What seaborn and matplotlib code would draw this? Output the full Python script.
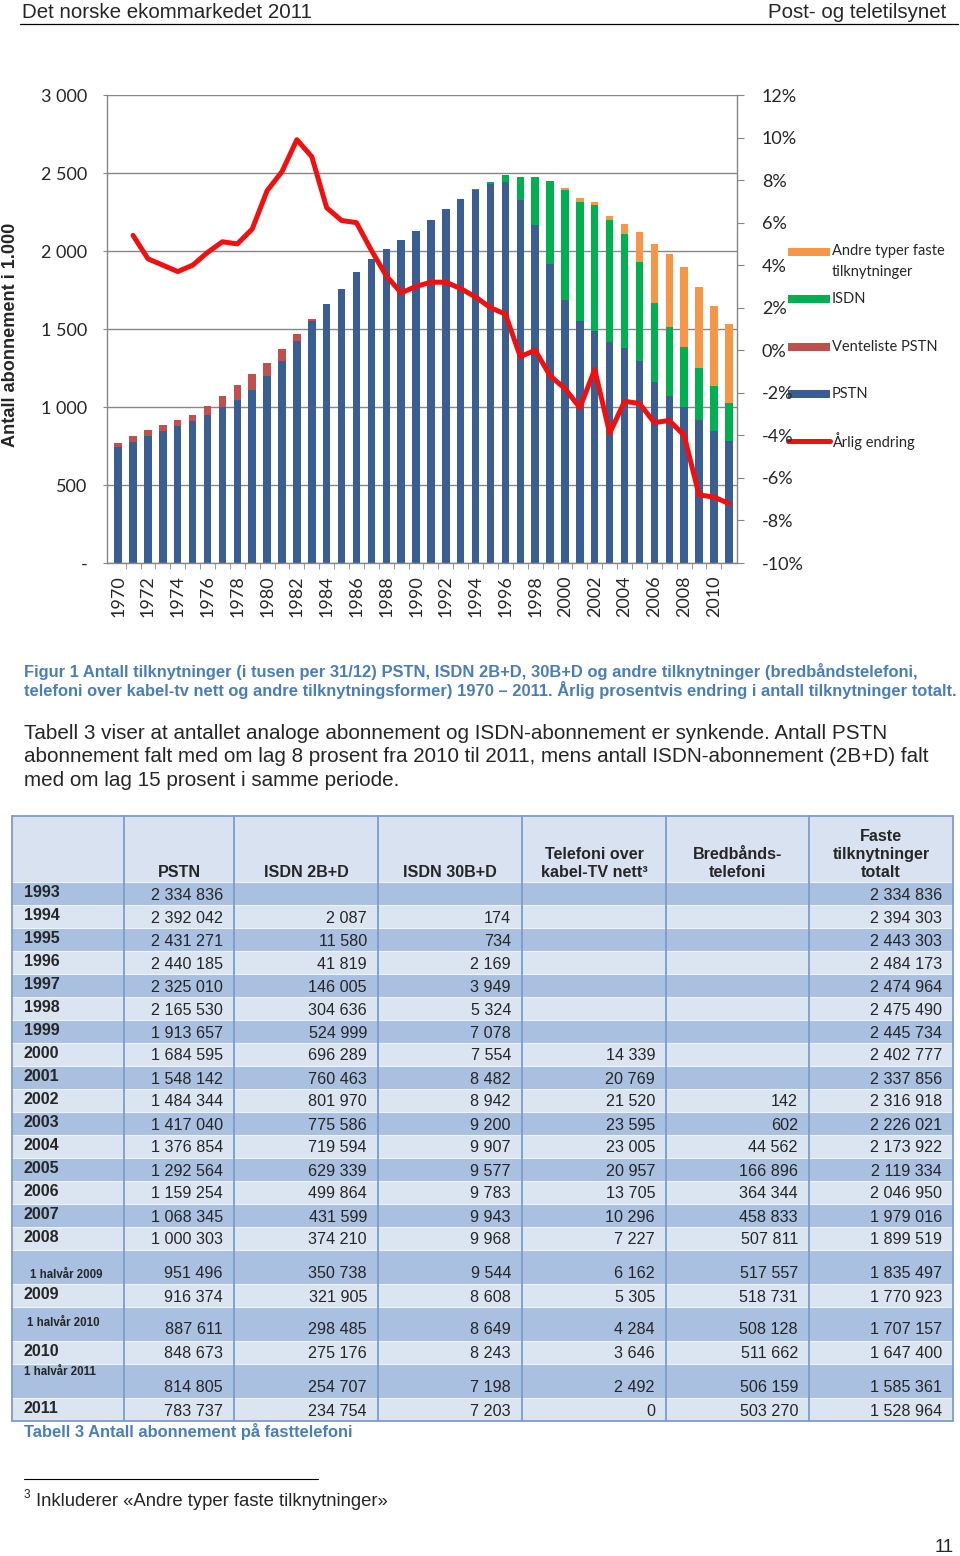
import matplotlib
matplotlib.use("Agg")
import matplotlib.pyplot as plt
from matplotlib.patches import Rectangle
import numpy as np
import seaborn as sns

sns.set_style("white")
plt.rcParams["font.family"] = ["Liberation Sans", "DejaVu Sans"]

# ---------------------------------------------------------
# chart data, thousands of subscriptions per 31/12

years = list(range(1970, 2012))

# PSTN 1970-1992 (1993 onwards comes from the table)
pstn_early = [741, 778, 812, 844, 876, 910, 951, 1000, 1047, 1111, 1197,
              1297, 1423, 1554, 1658, 1759, 1863, 1949, 2015, 2071, 2131,
              2197, 2269]

# waiting list PSTN 1970-1983, nothing after
venteliste_early = [28, 38, 39, 41, 39, 41, 55, 73, 96, 99, 83, 77, 43, 12]

# yearly change in total, percent, 1971-2011
arlig_endring = [5.4, 4.3, 4.0, 3.7, 4.0, 4.6, 5.1, 5.0, 5.7, 7.5,
                 8.4, 9.9, 9.1, 6.7, 6.1, 6.0, 4.7, 3.5, 2.7, 3.0,
                 3.2, 3.2, 2.9, 2.5, 2.0, 1.7, -0.3, 0.0, -1.2, -1.8,
                 -2.7, -0.9, -3.9, -2.4, -2.5, -3.4, -3.3, -4.0, -6.8, -6.9,
                 -7.2]

# ---------------------------------------------------------
# table data

row_labels = ["1993", "1994", "1995", "1996", "1997", "1998", "1999", "2000",
              "2001", "2002", "2003", "2004", "2005", "2006", "2007", "2008",
              "1 halvår 2009", "2009", "1 halvår 2010", "2010",
              "1 halvår 2011", "2011"]

col_headers = ["PSTN", "ISDN 2B+D", "ISDN 30B+D", "Telefoni over\nkabel-TV nett³",
               "Bredbånds-\ntelefoni", "Faste\ntilknytninger\ntotalt"]

pstn_tab = [2334836, 2392042, 2431271, 2440185, 2325010, 2165530, 1913657,
            1684595, 1548142, 1484344, 1417040, 1376854, 1292564, 1159254,
            1068345, 1000303, 951496, 916374, 887611, 848673, 814805, 783737]
isdn2_tab = [None, 2087, 11580, 41819, 146005, 304636, 524999, 696289, 760463,
             801970, 775586, 719594, 629339, 499864, 431599, 374210, 350738,
             321905, 298485, 275176, 254707, 234754]
isdn30_tab = [None, 174, 734, 2169, 3949, 5324, 7078, 7554, 8482, 8942, 9200,
              9907, 9577, 9783, 9943, 9968, 9544, 8608, 8649, 8243, 7198, 7203]
kabel_tab = [None, None, None, None, None, None, None, 14339, 20769, 21520,
             23595, 23005, 20957, 13705, 10296, 7227, 6162, 5305, 4284, 3646,
             2492, 0]
bredband_tab = [None, None, None, None, None, None, None, None, None, 142, 602,
                44562, 166896, 364344, 458833, 507811, 517557, 518731, 508128,
                511662, 506159, 503270]
totalt_tab = [2334836, 2394303, 2443303, 2484173, 2474964, 2475490, 2445734,
              2402777, 2337856, 2316918, 2226021, 2173922, 2119334, 2046950,
              1979016, 1899519, 1835497, 1770923, 1707157, 1647400, 1585361,
              1528964]

# ---------------------------------------------------------
# stacked series for the chart

full_rows = [i for i, r in enumerate(row_labels) if not r.startswith("1 halv")]
n_early = len(pstn_early)

pstn = np.array(pstn_early + [pstn_tab[i] / 1000 for i in full_rows])
venteliste = np.array(venteliste_early + [0] * (len(years) - len(venteliste_early)))
isdn = np.array([0] * n_early + [((isdn2_tab[i] or 0) + (isdn30_tab[i] or 0)) / 1000
                                 for i in full_rows])
andre = np.array([0] * n_early + [((kabel_tab[i] or 0) + (bredband_tab[i] or 0)) / 1000
                                  for i in full_rows])

C_PSTN = "#3b5e92"
C_VENT = "#c0504d"
C_ISDN = "#00b050"
C_ANDRE = "#f79646"
C_LINE = "#f01010"
C_GRID = "#878787"
C_BLUE_TXT = "#4a7ebb"

W, H = 960, 1556
fig = plt.figure(figsize=(W / 100, H / 100), dpi=100)

# page canvas in pixel coordinates
page = fig.add_axes([0, 0, 1, 1], zorder=-1)
page.set_xlim(0, W)
page.set_ylim(H, 0)
page.axis("off")

# ---------------------------------------------------------
# chart

ax = fig.add_axes([107 / W, 1 - 563 / H, (737 - 107) / W, (563 - 95) / H])

stack = [
    (pstn + venteliste + isdn + andre, C_ANDRE),
    (pstn + venteliste + isdn, C_ISDN),
    (pstn + venteliste, C_VENT),
    (pstn, C_PSTN),
]
for heights, col in stack:
    sns.barplot(x=years, y=heights, color=col, width=0.5, saturation=1,
                errorbar=None, edgecolor="none", linewidth=0, ax=ax)

ax.set_ylim(0, 3000)
ax.set_xlim(-0.75, len(years) - 0.45)
ax.set_axisbelow(True)
ax.yaxis.grid(True, color=C_GRID, linewidth=1)
ax.set_xlabel("")
ax.set_ylabel("")

for side in ["top", "right"]:
    ax.spines[side].set_visible(False)
for side in ["left", "bottom"]:
    ax.spines[side].set_color(C_GRID)
    ax.spines[side].set_linewidth(1)

yt = np.arange(0, 3001, 500)
ax.set_yticks(yt)
ax.set_yticklabels(["-" if v == 0 else f"{v:,}".replace(",", " ") for v in yt],
                   fontfamily="Lato", fontsize=13)
ax.tick_params(axis="y", length=3, color=C_GRID, pad=11)

ax.set_xticks(range(0, len(years), 2))
ax.set_xticklabels([str(y) for y in years[::2]], rotation=90,
                   fontfamily="Lato", fontsize=13)
ax.set_xticks(np.arange(0.5, len(years) - 1, 1), minor=True)
ax.tick_params(axis="x", which="major", length=0, pad=9)
ax.tick_params(axis="x", which="minor", length=4, color=C_GRID, bottom=True)

ax2 = ax.twinx()
line_x = [y - years[0] for y in years[1:]]
sns.lineplot(x=line_x, y=arlig_endring, color=C_LINE, linewidth=3.6, ax=ax2)
ax2.set_ylim(-10, 12)
ax2.set_xlim(ax.get_xlim())
ax2.set_xlabel("")
ax2.set_ylabel("")
for side in ["top", "left", "bottom"]:
    ax2.spines[side].set_visible(False)
ax2.spines["right"].set_color(C_GRID)
ax2.spines["right"].set_linewidth(1)
rt = np.arange(-10, 13, 2)
ax2.set_yticks(rt)
ax2.set_yticklabels([f"{v}%" for v in rt], fontfamily="Lato", fontsize=13)
ax2.tick_params(axis="y", length=5, color=C_GRID, pad=13)

page.text(11, 335, "Antall abonnement i 1.000", rotation=90, fontsize=13.1,
          fontweight="bold", ha="center", va="center")

# legend, drawn on the page
leg_labels = ["Andre typer faste\ntilknytninger", "ISDN", "Venteliste PSTN",
              "PSTN", "Årlig endring"]
leg_colors = [C_ANDRE, C_ISDN, C_VENT, C_PSTN, C_LINE]
for k, (lab, col) in enumerate(zip(leg_labels, leg_colors)):
    y = 252 + 47.3 * k
    if k < 4:
        page.add_patch(Rectangle((788, y - 4), 42, 8, color=col, lw=0))
    else:
        page.plot([788, 830], [y, y], color=col, lw=3.6, solid_capstyle="round")
    ty = y + 9.5 if "\n" in lab else y
    page.text(832, ty, lab, fontfamily="Lato", fontsize=10.5, va="center",
              linespacing=1.65)

# ---------------------------------------------------------
# page header, caption and paragraph

page.text(22, 12, "Det norske ekommarkedet 2011", fontsize=14.8, va="center")
page.text(946, 12, "Post- og teletilsynet", fontsize=14.8, va="center", ha="right")
page.plot([20, 958], [24, 24], color="black", lw=0.9)

caption = ["Figur 1 Antall tilknytninger (i tusen per 31/12) PSTN, ISDN 2B+D, 30B+D og andre tilknytninger (bredbåndstelefoni,",
           "telefoni over kabel-tv nett og andre tilknytningsformer) 1970 – 2011. Årlig prosentvis endring i antall tilknytninger totalt."]
for k, line in enumerate(caption):
    page.text(24, 671 + 19 * k, line, fontsize=11.85, fontweight="bold",
              color=C_BLUE_TXT, va="center")

paragraph = ["Tabell 3 viser at antallet analoge abonnement og ISDN-abonnement er synkende. Antall PSTN",
             "abonnement falt med om lag 8 prosent fra 2010 til 2011, mens antall ISDN-abonnement (2B+D) falt",
             "med om lag 15 prosent i samme periode."]
for k, line in enumerate(paragraph):
    page.text(24, 733 + 23.5 * k, line, fontsize=14.85, va="center")

# ---------------------------------------------------------
# table

col_edges = [12, 124, 234, 378, 522, 666, 809, 953]
row_h = [23] * 16 + [34, 23, 34, 23, 34, 23]
head_top, head_bot = 816, 882
C_HEAD = "#d8e2f0"
C_LIGHT = "#dbe5f2"
C_DARK = "#a9c0e0"
C_TLINE = "#7b9dca"

page.add_patch(Rectangle((col_edges[0], head_top), col_edges[-1] - col_edges[0],
                         head_bot - head_top, color=C_HEAD, lw=0))

columns = [pstn_tab, isdn2_tab, isdn30_tab, kabel_tab, bredband_tab, totalt_tab]
y0 = head_bot
for r, (lab, h) in enumerate(zip(row_labels, row_h)):
    page.add_patch(Rectangle((col_edges[0], y0), col_edges[-1] - col_edges[0], h,
                             color=C_DARK if r % 2 == 0 else C_LIGHT, lw=0))
    page.plot([col_edges[0], col_edges[-1]], [y0, y0], color="#eef3f9", lw=0.8)
    if lab.startswith("1 halv"):
        if lab.endswith("2009"):
            page.text(30, y0 + h - 9, lab, fontsize=8.3, fontweight="bold", va="center")
        elif lab.endswith("2010"):
            page.text(27, y0 + 16, lab, fontsize=8.3, fontweight="bold", va="center")
        else:
            page.text(24, y0 + 8, lab, fontsize=8.3, fontweight="bold", va="center")
        vy = y0 + h - 11
    else:
        page.text(24, y0 + h / 2 - 1, lab, fontsize=11.6, fontweight="bold", va="center")
        vy = y0 + h / 2 + 1.5
    for c, vals in enumerate(columns):
        v = vals[r]
        if v is None:
            continue
        page.text(col_edges[c + 2] - 11, vy, f"{v:,}".replace(",", " "),
                  fontsize=11.6, ha="right", va="center")
    y0 += h
table_bot = y0

for c, head in enumerate(col_headers):
    cx = (col_edges[c + 1] + col_edges[c + 2]) / 2
    page.text(cx, 880, head, fontsize=11.6, fontweight="bold", ha="center",
              va="bottom", linespacing=1.27, multialignment="center")

for x in col_edges:
    page.plot([x, x], [head_top, table_bot], color=C_TLINE, lw=1.3)
page.plot([col_edges[0], col_edges[-1]], [head_top, head_top], color=C_TLINE, lw=1.3)
page.plot([col_edges[0], col_edges[-1]], [table_bot, table_bot], color=C_TLINE, lw=1.3)

page.text(24, 1431, "Tabell 3 Antall abonnement på fasttelefoni", fontsize=11.9,
          fontweight="bold", color=C_BLUE_TXT, va="center")

# footnote and page number
page.plot([24, 318], [1479, 1479], color="black", lw=0.8)
page.text(24, 1495, "3", fontsize=8.5, va="center")
page.text(36, 1501, "Inkluderer «Andre typer faste tilknytninger»", fontsize=13.3,
          va="center")
page.text(944, 1548, "11", fontsize=13.3, ha="center", va="center")

fig.savefig("out.png", dpi=100)
